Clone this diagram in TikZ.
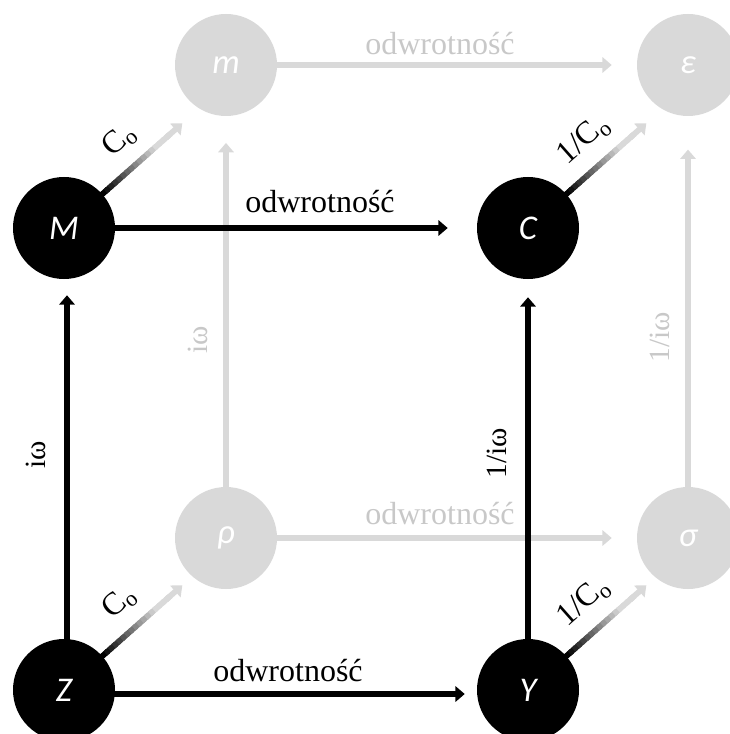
\documentclass[tikz,border=0pt]{standalone}
\usepackage{fontspec}
\setmainfont{Liberation Serif}
\newfontfamily\nodefont{Carlito}
\usetikzlibrary{arrows.meta,calc}
\definecolor{lgray}{HTML}{D9D9D9}
\definecolor{tgray}{HTML}{C8C8C8}
\begin{document}
\begin{tikzpicture}[x=0.75pt,y=0.75pt,
  blacknode/.style={circle, fill=black, minimum size=76.5pt, inner sep=0pt, text=white,
    font=\nodefont\itshape\fontsize{26}{26}\selectfont},
  graynode/.style={blacknode, fill=lgray},
  blackarrow/.style={line width=4.3pt, draw=black, -{Triangle[length=7pt,width=11.5pt]}},
  grayarrow/.style={blackarrow, draw=lgray},
  lab/.style={font=\fontsize{24}{24}\selectfont, anchor=base, inner sep=0pt},
  vlab/.style={font=\fontsize{22}{22}\selectfont, rotate=90, inner sep=0pt},
  dlab/.style={font=\fontsize{24}{24}\selectfont, rotate=41.5, inner sep=0pt},
]
\path[use as bounding box] (0,0) rectangle (730,-734);

% nodes
\node[graynode] (m) at (226,-65) {m};
\node[graynode] (e) at (688,-65) {ε};
\node[graynode] (r) at (226,-538) {ρ};
\node[graynode] (s) at (688,-538) {σ};
\node[blacknode] (M) at (64,-228) {M};
\node[blacknode] (C) at (528,-228) {C};
\node[blacknode] (Z) at (64,-690) {Z};
\node[blacknode] (Y) at (528,-690) {Y};

% back (gray) connectors
\draw[grayarrow, shorten >=18.75pt] (m) -- (e);
\draw[grayarrow, shorten >=18.75pt] (r) -- (s);
\draw[grayarrow, shorten >=20pt] (r) -- (m);
\draw[grayarrow, shorten >=25pt] (s) -- (e);

% front (black) connectors
\draw[blackarrow, shorten >=21.75pt] (M) -- (C);
\draw[blackarrow, shorten >=12pt, shorten <=-2pt] ([xshift=2.25pt]Z.north) -- ([xshift=2.25pt]M.south);
\draw[blackarrow, shorten >=13.5pt] (Y) -- (C);
\draw[blackarrow, shorten >=9pt, shorten <=-2pt] ([yshift=-3pt]Z.east) -- ([yshift=-3pt]Y.west);

% diagonal gradient connectors
\foreach \n in {M,C,Z,Y} {
  \coordinate (\n-s) at ($(\n)+(41.5:50)$);
  \coordinate (\n-e) at ($(\n)+(41.5:158)$);
  \foreach \i in {0,...,16} {
    \pgfmathtruncatemacro\p{max(0,100-\i*100/13)}
    \pgfmathsetmacro\a{\i/20}
    \pgfmathsetmacro\b{min(0.85,(\i+1.6)/20)}
    \draw[line width=4.3pt, draw=black!\p!lgray] ($(\n-s)!\a!(\n-e)$) -- ($(\n-s)!\b!(\n-e)$);
  }
  \draw[grayarrow] ($(\n-s)!0.8!(\n-e)$) -- (\n-e);
}

% labels
\node[lab, text=tgray] (l1) at (440,-55) {odwrotność};
\node[lab] (l2) at (320,-213) {odwrotność};
\node[lab, text=tgray] (l3) at (440,-524) {odwrotność};
\node[lab] (l4) at (288,-681) {odwrotność};

\node[vlab] (v1) at (36,-455) {iω};
\node[vlab, text=tgray] (v2) at (198,-340) {iω};
\node[vlab] (v3) at (497,-453) {1/iω};
\node[vlab, text=tgray] (v4) at (660,-337) {1/iω};

\node[dlab] (d1) at ($(M)+(41.5:100)+(131.5:29)$) {C\textsubscript{o}};
\node[dlab] (d2) at ($(C)+(41.5:100)+(131.5:29)$) {1/C\textsubscript{o}};
\node[dlab] (d3) at ($(Z)+(41.5:100)+(131.5:29)$) {C\textsubscript{o}};
\node[dlab] (d4) at ($(Y)+(41.5:100)+(131.5:29)$) {1/C\textsubscript{o}};
\end{tikzpicture}
\end{document}
